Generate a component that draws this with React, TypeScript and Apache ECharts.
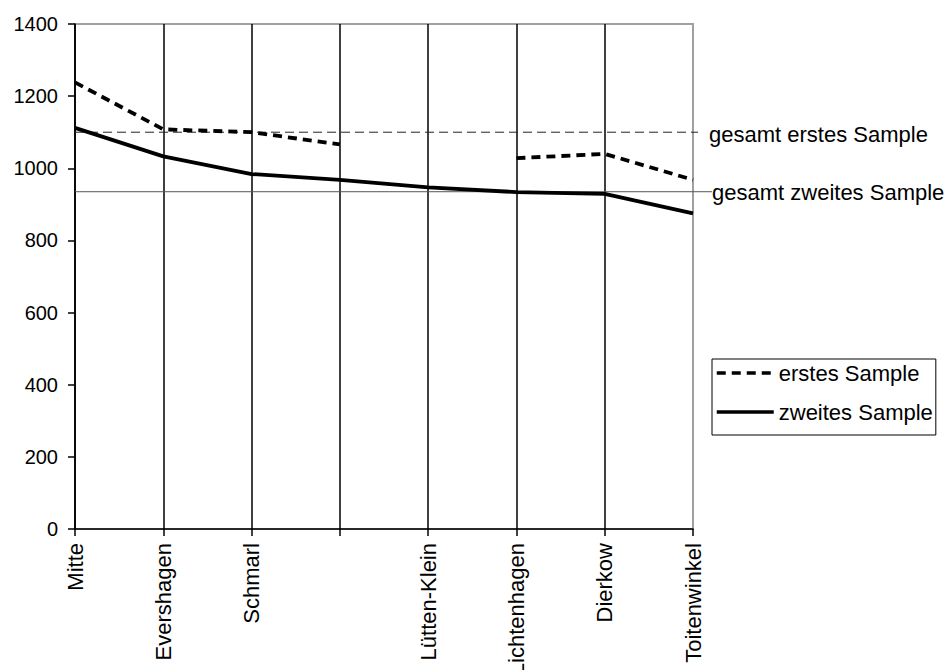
import React, { useEffect, useRef } from "react";
import * as echarts from "echarts";

const categories = [
  "Mitte",
  "Evershagen",
  "Schmarl",
  "",
  "Lütten-Klein",
  "Lichtenhagen",
  "Dierkow",
  "Toitenwinkel",
];
const erstesSample = [1238, 1108, 1100, 1066, null, 1028, 1040, 968];
const zweitesSample = [1112, 1033, 984, 968, 947, 934, 929, 875];
const gesamtErstes = 1100;
const gesamtZweites = 935;
const yTicks = { min: 0, max: 1400, interval: 200 };

const FONT = "'Liberation Sans', Arial, sans-serif";

export default function App() {
  const ref = useRef<HTMLDivElement>(null);

  useEffect(() => {
    if (!ref.current) return;
    document.body.style.margin = "0";
    document.body.style.overflow = "hidden";
    const chart = echarts.init(ref.current, null, { renderer: "svg" });
    const lastIndex = categories.length - 1;

    chart.setOption({
      animation: false,
      backgroundColor: "#fff",
      textStyle: { fontFamily: FONT },
      grid: {
        left: 75,
        right: 252,
        top: 24,
        bottom: 141,
        containLabel: false,
        outerBoundsMode: "none",
        show: true,
        borderColor: "#a0a0a0",
        borderWidth: 2,
        backgroundColor: "transparent",
      },
      legend: {
        orient: "vertical",
        left: 712,
        top: 359,
        padding: [2, 3, 11, 3],
        itemWidth: 57,
        itemHeight: 14,
        itemGap: 15,
        borderColor: "#000",
        borderWidth: 1,
        itemStyle: { opacity: 0 },
        lineStyle: { width: 3.5 },
        textStyle: {
          fontFamily: FONT,
          fontSize: 22,
          color: "#000",
          lineHeight: 24,
        },
        data: ["erstes Sample", "zweites Sample"],
      },
      xAxis: {
        type: "category",
        data: categories,
        boundaryGap: false,
        axisLine: { lineStyle: { color: "#000", width: 1.5 } },
        axisTick: {
          show: true,
          length: 7,
          interval: 0,
          lineStyle: { color: "#000", width: 1.5 },
        },
        axisLabel: {
          interval: 0,
          rotate: 90,
          margin: 14,
          fontFamily: FONT,
          fontSize: 22,
          color: "#000",
        },
        splitLine: {
          show: true,
          interval: (index: number) => index !== lastIndex,
          lineStyle: { color: "#000", width: 1.5 },
        },
      },
      yAxis: {
        type: "value",
        min: yTicks.min,
        max: yTicks.max,
        interval: yTicks.interval,
        axisLine: { show: true, lineStyle: { color: "#000", width: 1.5 } },
        axisTick: { show: true, length: 7, lineStyle: { color: "#000", width: 1.5 } },
        axisLabel: {
          margin: 17,
          fontFamily: FONT,
          fontSize: 20,
          color: "#000",
          formatter: (v: number) => String(v),
        },
        splitLine: { show: false },
      },
      series: [
        {
          name: "erstes Sample",
          type: "line",
          data: erstesSample,
          symbol: "none",
          connectNulls: false,
          z: 5,
          itemStyle: { color: "#000" },
          lineStyle: { color: "#000", width: 3.8, type: [9, 6] },
        },
        {
          name: "zweites Sample",
          type: "line",
          data: zweitesSample,
          symbol: "none",
          z: 5,
          itemStyle: { color: "#000" },
          lineStyle: { color: "#000", width: 3.8 },
        },
      ],
    });

    // overall-average reference lines, placed through the axis scales
    const [x0, yErstes] = chart.convertToPixel({ xAxisIndex: 0, yAxisIndex: 0 }, [0, gesamtErstes]) as number[];
    const [, yZweites] = chart.convertToPixel({ xAxisIndex: 0, yAxisIndex: 0 }, [0, gesamtZweites]) as number[];
    const [xEnd] = chart.convertToPixel({ xAxisIndex: 0, yAxisIndex: 0 }, [lastIndex, 0]) as number[];

    chart.setOption({
      graphic: [
        {
          type: "line",
          z: 3,
          shape: { x1: x0, y1: yErstes, x2: xEnd + 5, y2: yErstes },
          style: { stroke: "#222", lineWidth: 1, lineDash: [9, 5] },
        },
        {
          type: "line",
          z: 3,
          shape: { x1: x0, y1: yZweites, x2: xEnd + 19, y2: yZweites },
          style: { stroke: "#555", lineWidth: 1 },
        },
        {
          type: "text",
          x: xEnd + 16,
          y: yErstes + 2,
          style: {
            text: "gesamt erstes Sample",
            fontFamily: FONT,
            fontSize: 22,
            fill: "#000",
            verticalAlign: "middle",
            align: "left",
          },
        },
        {
          type: "text",
          x: xEnd + 19,
          y: yZweites + 1,
          style: {
            text: "gesamt zweites Sample",
            fontFamily: FONT,
            fontSize: 22,
            fill: "#000",
            verticalAlign: "middle",
            align: "left",
          },
        },
      ],
    });

    return () => chart.dispose();
  }, []);

  return (
    <div
      ref={ref}
      style={{ position: "absolute", left: 0, top: 0, width: 945, height: 670 }}
    />
  );
}
